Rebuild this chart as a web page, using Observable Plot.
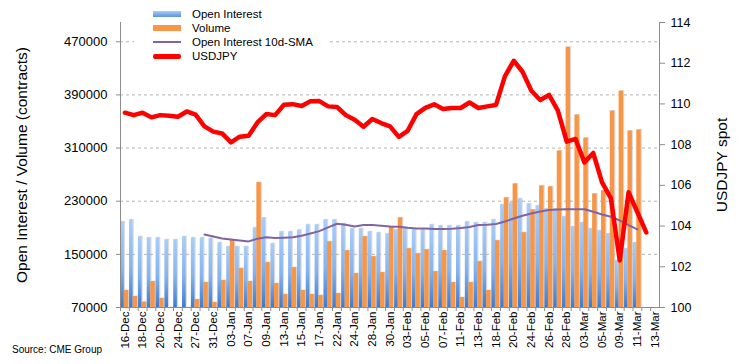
<!DOCTYPE html>
<html><head><meta charset="utf-8">
<script src="https://cdn.jsdelivr.net/npm/d3@7"></script>
<script src="https://cdn.jsdelivr.net/npm/@observablehq/plot@0.6"></script>
<style>
body{margin:0;background:#fff;font-family:"Liberation Sans",Arial,sans-serif;}
#wrap{position:relative;width:738px;height:364px;overflow:hidden;}
.vt{position:absolute;transform:translate(-50%,-50%) rotate(-90deg);white-space:nowrap;color:#000;font-size:15.5px;}
#legend{position:absolute;left:134px;top:5px;width:196px;height:60px;background:#fff;font-size:11.5px;}
.row{position:absolute;left:0;height:14px;line-height:14px;}
.sym{position:absolute;left:19px;width:28px;}
.lbl{position:absolute;left:58px;top:0;white-space:nowrap;}
#source{position:absolute;left:12px;top:344px;font-size:10px;color:#000;}
</style></head><body>
<div id="wrap"></div>
<script>
const dates = ["16-Dec","17-Dec","18-Dec","19-Dec","20-Dec","23-Dec","24-Dec","26-Dec","27-Dec","30-Dec","31-Dec",
"02-Jan","03-Jan","06-Jan","07-Jan","08-Jan","09-Jan","10-Jan","13-Jan","14-Jan","15-Jan","16-Jan","17-Jan","21-Jan","22-Jan","23-Jan","24-Jan","27-Jan","28-Jan","29-Jan","30-Jan","31-Jan",
"03-Feb","04-Feb","05-Feb","06-Feb","07-Feb","10-Feb","11-Feb","12-Feb","13-Feb","14-Feb","18-Feb","19-Feb","20-Feb","21-Feb","24-Feb","25-Feb","26-Feb","27-Feb","28-Feb",
"02-Mar","03-Mar","04-Mar","05-Mar","06-Mar","09-Mar","10-Mar","11-Mar","12-Mar","13-Mar"];
const xTickLabels = ["16-Dec","18-Dec","20-Dec","24-Dec","27-Dec","31-Dec","03-Jan","07-Jan","09-Jan","13-Jan","15-Jan","17-Jan","22-Jan","24-Jan","28-Jan","30-Jan","03-Feb","05-Feb","07-Feb","11-Feb","13-Feb","18-Feb","20-Feb","24-Feb","26-Feb","28-Feb","03-Mar","05-Mar","09-Mar","11-Mar","13-Mar"];
const openInterest = [199000,202000,176600,175000,175000,172000,172000,176600,175000,175000,174000,
167500,161600,161600,161600,190000,205000,166000,184000,184000,186600,194600,194600,202000,202000,196000,188600,188600,184000,182600,181000,187000,
190000,187000,187000,194600,193000,193000,193000,199000,197600,197600,202000,224600,227600,233600,226000,223000,218600,218600,206600,
191600,197600,188600,185600,181000,140500,158500,167600];
const volume = [95500,86500,78000,109000,83500,50000,45000,40000,82000,107500,77500,
110500,171000,128800,109000,258000,137600,106000,89500,130000,95500,89500,88000,169000,91000,155500,121000,176600,146500,122500,191600,205000,
158500,151000,157000,124000,155500,107500,85000,107500,139000,95500,170500,235000,256000,182600,217000,253000,251600,305600,461800,
359700,325000,241000,245600,365700,395700,335700,337200];
const oiSMA10 = [null,null,null,null,null,null,null,null,null,180000,177000,
174000,172500,171000,169500,173600,175600,174600,175000,175600,178000,181500,185000,190500,196000,194600,192000,194100,194100,193000,192000,191600,
190000,189000,189000,188100,188100,188600,189600,191100,194100,194600,195600,199500,204000,208100,211600,214600,216600,217600,218000,
218000,218000,214100,210000,206600,201000,194100,187600];
const usdjpy = [109.57,109.45,109.57,109.34,109.45,109.42,109.37,109.63,109.47,108.9,108.64,
108.55,108.11,108.39,108.44,109.09,109.5,109.45,109.96,109.99,109.9,110.13,110.14,109.88,109.85,109.45,109.22,108.88,109.26,109.06,108.9,108.38,
108.68,109.5,109.81,109.98,109.75,109.8,109.8,110.07,109.8,109.88,109.95,111.35,112.12,111.58,110.65,110.19,110.44,109.67,108.15,
108.28,107.13,107.59,106.15,105.36,102.31,105.66,104.68,103.69];
const leftTicks = [70000,150000,230000,310000,390000,470000];
const gridTicks = [150000,230000,310000,390000,470000];
const rightTicks = [100,102,104,106,108,110,112,114];

const yMin = 70000, yMax = 499000, rMin = 100, rMax = 114;
const toLeft = v => yMin + (v - rMin) * (yMax - yMin) / (rMax - rMin);
const fromLeft = y => rMin + (y - yMin) * (rMax - rMin) / (yMax - yMin);

const rows = dates.map((d, i) => ({date: d, oi: openInterest[i], vol: volume[i], sma: oiSMA10[i], fx: usdjpy[i]}));
const barRows = rows.filter(r => r.oi != null);
const smaRows = rows.filter(r => r.sma != null);
const fxRows = rows.filter(r => r.fx != null);

const W = 738, H = 364, mL = 120, mR = 79, mT = 22, mB = 57;
const bw = (W - mL - mR) / dates.length;
const font = '"Liberation Sans", Arial, sans-serif';

const chart = Plot.plot({
  width: W, height: H,
  marginLeft: mL, marginRight: mR, marginTop: mT, marginBottom: mB,
  x: {type: "band", domain: dates, padding: 0, axis: null},
  y: {domain: [yMin, yMax], axis: null},
  style: {fontFamily: font, background: "#fff", color: "#000"},
  marks: [
    Plot.gridY(gridTicks, {stroke: "#b4b4b4", strokeOpacity: 1, strokeDasharray: "3,3"}),
    Plot.barY(barRows, {x: "date", y1: yMin, y2: "oi", fill: "#9a9a9a", fillOpacity: 0.35, insetLeft: 1.4, insetRight: 3.8, dy: -0.5, clip: true}),
    Plot.barY(barRows, {x: "date", y1: yMin, y2: "oi", fill: "url(#oiGrad)", insetLeft: 0.2, insetRight: 5.0, clip: true}),
    Plot.barY(barRows, {x: "date", y1: yMin, y2: "vol", fill: "#9a9a9a", fillOpacity: 0.35, insetLeft: 5.0, insetRight: -0.6, dy: -0.5, clip: true}),
    Plot.barY(barRows, {x: "date", y1: yMin, y2: "vol", fill: "#f79646", insetLeft: 3.8, insetRight: 0.6, clip: true}),
    Plot.line(smaRows, {x: "date", y: "sma", stroke: "#8064a2", strokeWidth: 2}),
    Plot.line(fxRows, {x: "date", y: d => toLeft(d.fx), stroke: "#ff0000", strokeWidth: 4.5, strokeLinejoin: "round", strokeLinecap: "round"}),
    Plot.ruleY([yMin], {stroke: "#8c8c8c"}),
    Plot.frame({anchor: "left", stroke: "#8c8c8c"}),
    Plot.frame({anchor: "right", stroke: "#8c8c8c"}),
    Plot.axisX({ticks: dates, tickFormat: () => "", tickSize: 4, dx: -bw / 2, stroke: "#8c8c8c", label: null}),
    Plot.axisX({ticks: xTickLabels, tickSize: 0, tickPadding: 4, tickRotate: -90, fontSize: 11.5, fill: "#000", label: null}),
    Plot.axisY({ticks: leftTicks, tickSize: 4, tickPadding: 9, fontSize: 13, fill: "#000", stroke: "#8c8c8c", tickFormat: d3.format("d"), label: null}),
    Plot.axisY({anchor: "right", ticks: rightTicks.map(toLeft), tickSize: 5, tickPadding: 6, fontSize: 12.5, fill: "#000", stroke: "#8c8c8c", tickFormat: d => String(Math.round(fromLeft(d))), label: null})
  ]
});

const defs = d3.select(chart).insert("defs", ":first-child");
const g = defs.append("linearGradient").attr("id", "oiGrad").attr("x1", 0).attr("y1", 0).attr("x2", 0).attr("y2", 1);
g.append("stop").attr("offset", "0%").attr("stop-color", "#a9cdf8");
g.append("stop").attr("offset", "55%").attr("stop-color", "#86b4ee");
g.append("stop").attr("offset", "100%").attr("stop-color", "#3d7bd0");

const wrap = document.getElementById("wrap");
wrap.appendChild(chart);

const legendItems = [
  {name: "Open Interest", kind: "oi"},
  {name: "Volume", kind: "vol"},
  {name: "Open Interest 10d-SMA", kind: "sma"},
  {name: "USDJPY", kind: "fx"}
];
const legend = document.createElement("div");
legend.id = "legend";
legendItems.forEach((it, i) => {
  const row = document.createElement("div");
  row.className = "row";
  row.style.top = (2 + i * 14.1) + "px";
  const sym = document.createElement("div");
  sym.className = "sym";
  if (it.kind === "oi") { sym.style.top = "4px"; sym.style.height = "6px"; sym.style.background = "linear-gradient(#a9cdf8,#5a92dc)"; }
  if (it.kind === "vol") { sym.style.top = "4px"; sym.style.height = "6px"; sym.style.background = "#f79646"; }
  if (it.kind === "sma") { sym.style.top = "6px"; sym.style.height = "2px"; sym.style.background = "#8064a2"; }
  if (it.kind === "fx") { sym.style.top = "5px"; sym.style.height = "4.5px"; sym.style.background = "#ff0000"; sym.style.borderRadius = "2px"; }
  const lbl = document.createElement("div");
  lbl.className = "lbl";
  lbl.textContent = it.name;
  row.appendChild(sym); row.appendChild(lbl);
  legend.appendChild(row);
});
wrap.appendChild(legend);

const t1 = document.createElement("div");
t1.className = "vt"; t1.style.left = "22px"; t1.style.top = "165px";
t1.textContent = "Open Interest / Volume (contracts)";
wrap.appendChild(t1);
const t2 = document.createElement("div");
t2.className = "vt"; t2.style.left = "722px"; t2.style.top = "165px";
t2.textContent = "USDJPY spot";
wrap.appendChild(t2);
const src = document.createElement("div");
src.id = "source"; src.textContent = "Source: CME Group";
wrap.appendChild(src);
</script>
</body></html>
